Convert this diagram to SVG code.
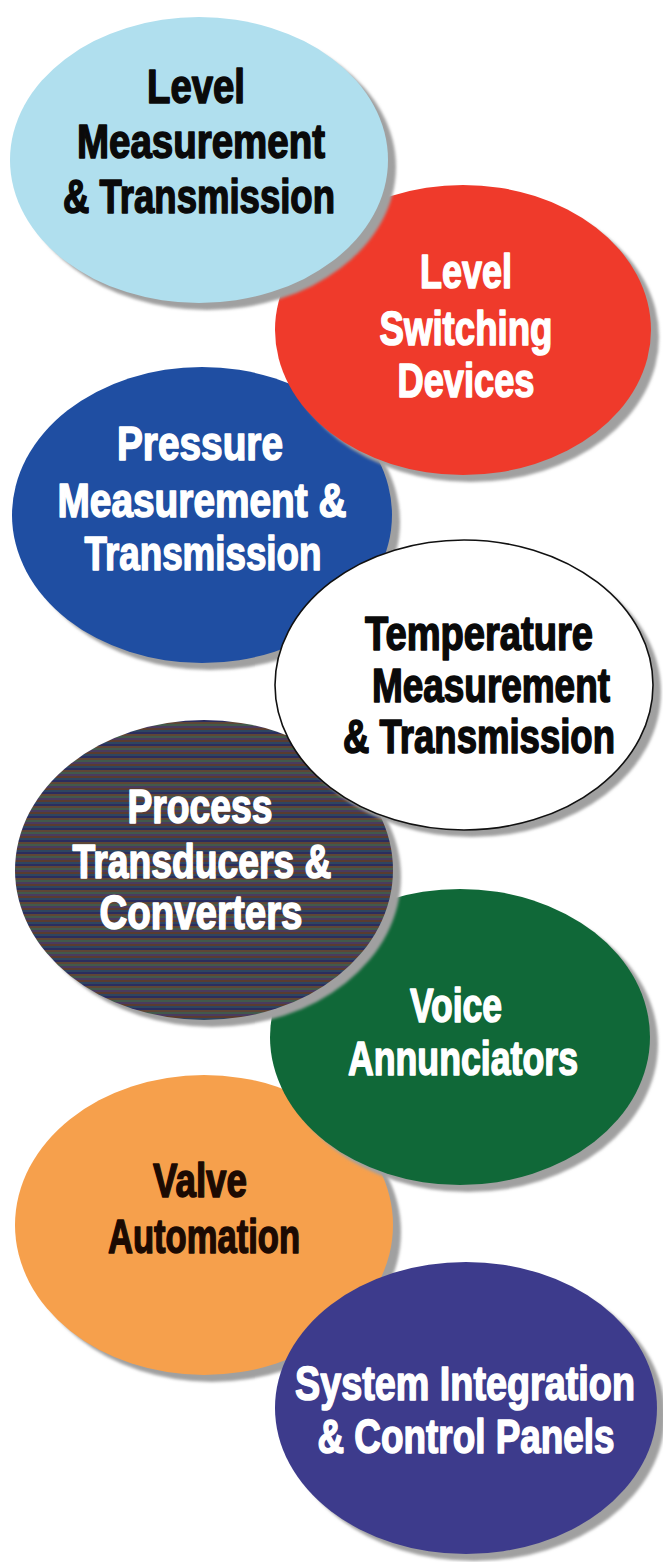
<svg xmlns="http://www.w3.org/2000/svg" width="663" height="1562" viewBox="0 0 663 1562">
<style>
.t{font-family:"Liberation Sans","Arial",sans-serif;font-weight:bold;font-size:48px;text-anchor:middle;stroke-width:1.6;stroke-linejoin:round}
.w{fill:#ffffff;stroke:#ffffff}
.k{fill:#0a0a0a;stroke:#0a0a0a}
.o{fill:#1c0a02;stroke:#1c0a02}
.sh{fill:#a0a0a0;filter:url(#blur)}
</style>
<defs>
<filter id="blur" x="-5%" y="-5%" width="110%" height="110%"><feGaussianBlur stdDeviation="1.5"/></filter>
<pattern id="stripes" width="20" height="12" patternUnits="userSpaceOnUse">
<rect width="20" height="12" fill="#3a3650"/>
<rect y="0" width="20" height="2" fill="#2b2d5e"/>
<rect y="2" width="20" height="2" fill="#5e4636"/>
<rect y="4" width="20" height="2" fill="#42594c"/>
<rect y="6" width="20" height="2" fill="#4a3b5e"/>
<rect y="8" width="20" height="2" fill="#5a3c30"/>
<rect y="10" width="20" height="2" fill="#2e4560"/>
</pattern>
</defs>
<rect width="663" height="1562" fill="#ffffff"/>
<g id="connectors"/>

<g id="valve-automation">
<ellipse class="sh" cx="212" cy="1232" rx="189" ry="150"/>
<ellipse cx="204" cy="1225" rx="189" ry="150" fill="#f6a04c"/>
<text class="t o" x="200" y="1197" textLength="94" lengthAdjust="spacingAndGlyphs">Valve</text>
<text class="t o" x="204" y="1253" textLength="192" lengthAdjust="spacingAndGlyphs">Automation</text>
</g>

<g id="system-integration">
<ellipse class="sh" cx="474" cy="1415" rx="191" ry="146"/>
<ellipse cx="466" cy="1408" rx="191" ry="146" fill="#3d3b8c"/>
<text class="t w" x="465" y="1400" textLength="340" lengthAdjust="spacingAndGlyphs">System Integration</text>
<text class="t w" x="466" y="1453" textLength="297" lengthAdjust="spacingAndGlyphs">&amp; Control Panels</text>
</g>

<g id="voice-annunciators">
<ellipse class="sh" cx="468" cy="1044" rx="190" ry="148"/>
<ellipse cx="460" cy="1037" rx="190" ry="148" fill="#106838"/>
<text class="t w" x="456" y="1022" textLength="92" lengthAdjust="spacingAndGlyphs">Voice</text>
<text class="t w" x="463" y="1075" textLength="230" lengthAdjust="spacingAndGlyphs">Annunciators</text>
</g>

<g id="process-transducers">
<ellipse class="sh" cx="212" cy="877" rx="189" ry="150"/>
<ellipse cx="204" cy="870" rx="189" ry="150" fill="url(#stripes)"/>
<text class="t w" x="200" y="823" textLength="145" lengthAdjust="spacingAndGlyphs">Process</text>
<text class="t w" x="202" y="878" textLength="259" lengthAdjust="spacingAndGlyphs">Transducers &amp;</text>
<text class="t w" x="201" y="929" textLength="203" lengthAdjust="spacingAndGlyphs">Converters</text>
</g>

<g id="pressure-measurement">
<ellipse class="sh" cx="210" cy="522" rx="190" ry="148"/>
<ellipse cx="202" cy="515" rx="190" ry="148" fill="#1f4ea2"/>
<text class="t w" x="200" y="460" textLength="166" lengthAdjust="spacingAndGlyphs">Pressure</text>
<text class="t w" x="202" y="517" textLength="289" lengthAdjust="spacingAndGlyphs">Measurement &amp;</text>
<text class="t w" x="203" y="570" textLength="237" lengthAdjust="spacingAndGlyphs">Transmission</text>
</g>

<g id="temperature-measurement">
<ellipse class="sh" cx="472" cy="692" rx="189" ry="145"/>
<ellipse cx="464" cy="685" rx="189" ry="145" fill="#ffffff" stroke="#111111" stroke-width="1.6"/>
<text class="t k" x="479" y="650" textLength="228" lengthAdjust="spacingAndGlyphs">Temperature</text>
<text class="t k" x="491" y="702" textLength="238" lengthAdjust="spacingAndGlyphs">Measurement</text>
<text class="t k" x="479" y="753" textLength="272" lengthAdjust="spacingAndGlyphs">&amp; Transmission</text>
</g>

<g id="level-switching">
<ellipse class="sh" cx="471" cy="337" rx="188" ry="145"/>
<ellipse cx="463" cy="330" rx="188" ry="145" fill="#ef3a2b"/>
<text class="t w" x="466" y="288" textLength="92" lengthAdjust="spacingAndGlyphs">Level</text>
<text class="t w" x="466" y="345" textLength="173" lengthAdjust="spacingAndGlyphs">Switching</text>
<text class="t w" x="466" y="397" textLength="137" lengthAdjust="spacingAndGlyphs">Devices</text>
</g>

<g id="level-measurement">
<ellipse class="sh" cx="207" cy="167" rx="189" ry="143"/>
<ellipse cx="199" cy="160" rx="189" ry="143" fill="#b0dfee"/>
<text class="t k" x="196" y="103" textLength="98" lengthAdjust="spacingAndGlyphs">Level</text>
<text class="t k" x="201" y="158" textLength="248" lengthAdjust="spacingAndGlyphs">Measurement</text>
<text class="t k" x="199" y="213" textLength="272" lengthAdjust="spacingAndGlyphs">&amp; Transmission</text>
</g>
</svg>
